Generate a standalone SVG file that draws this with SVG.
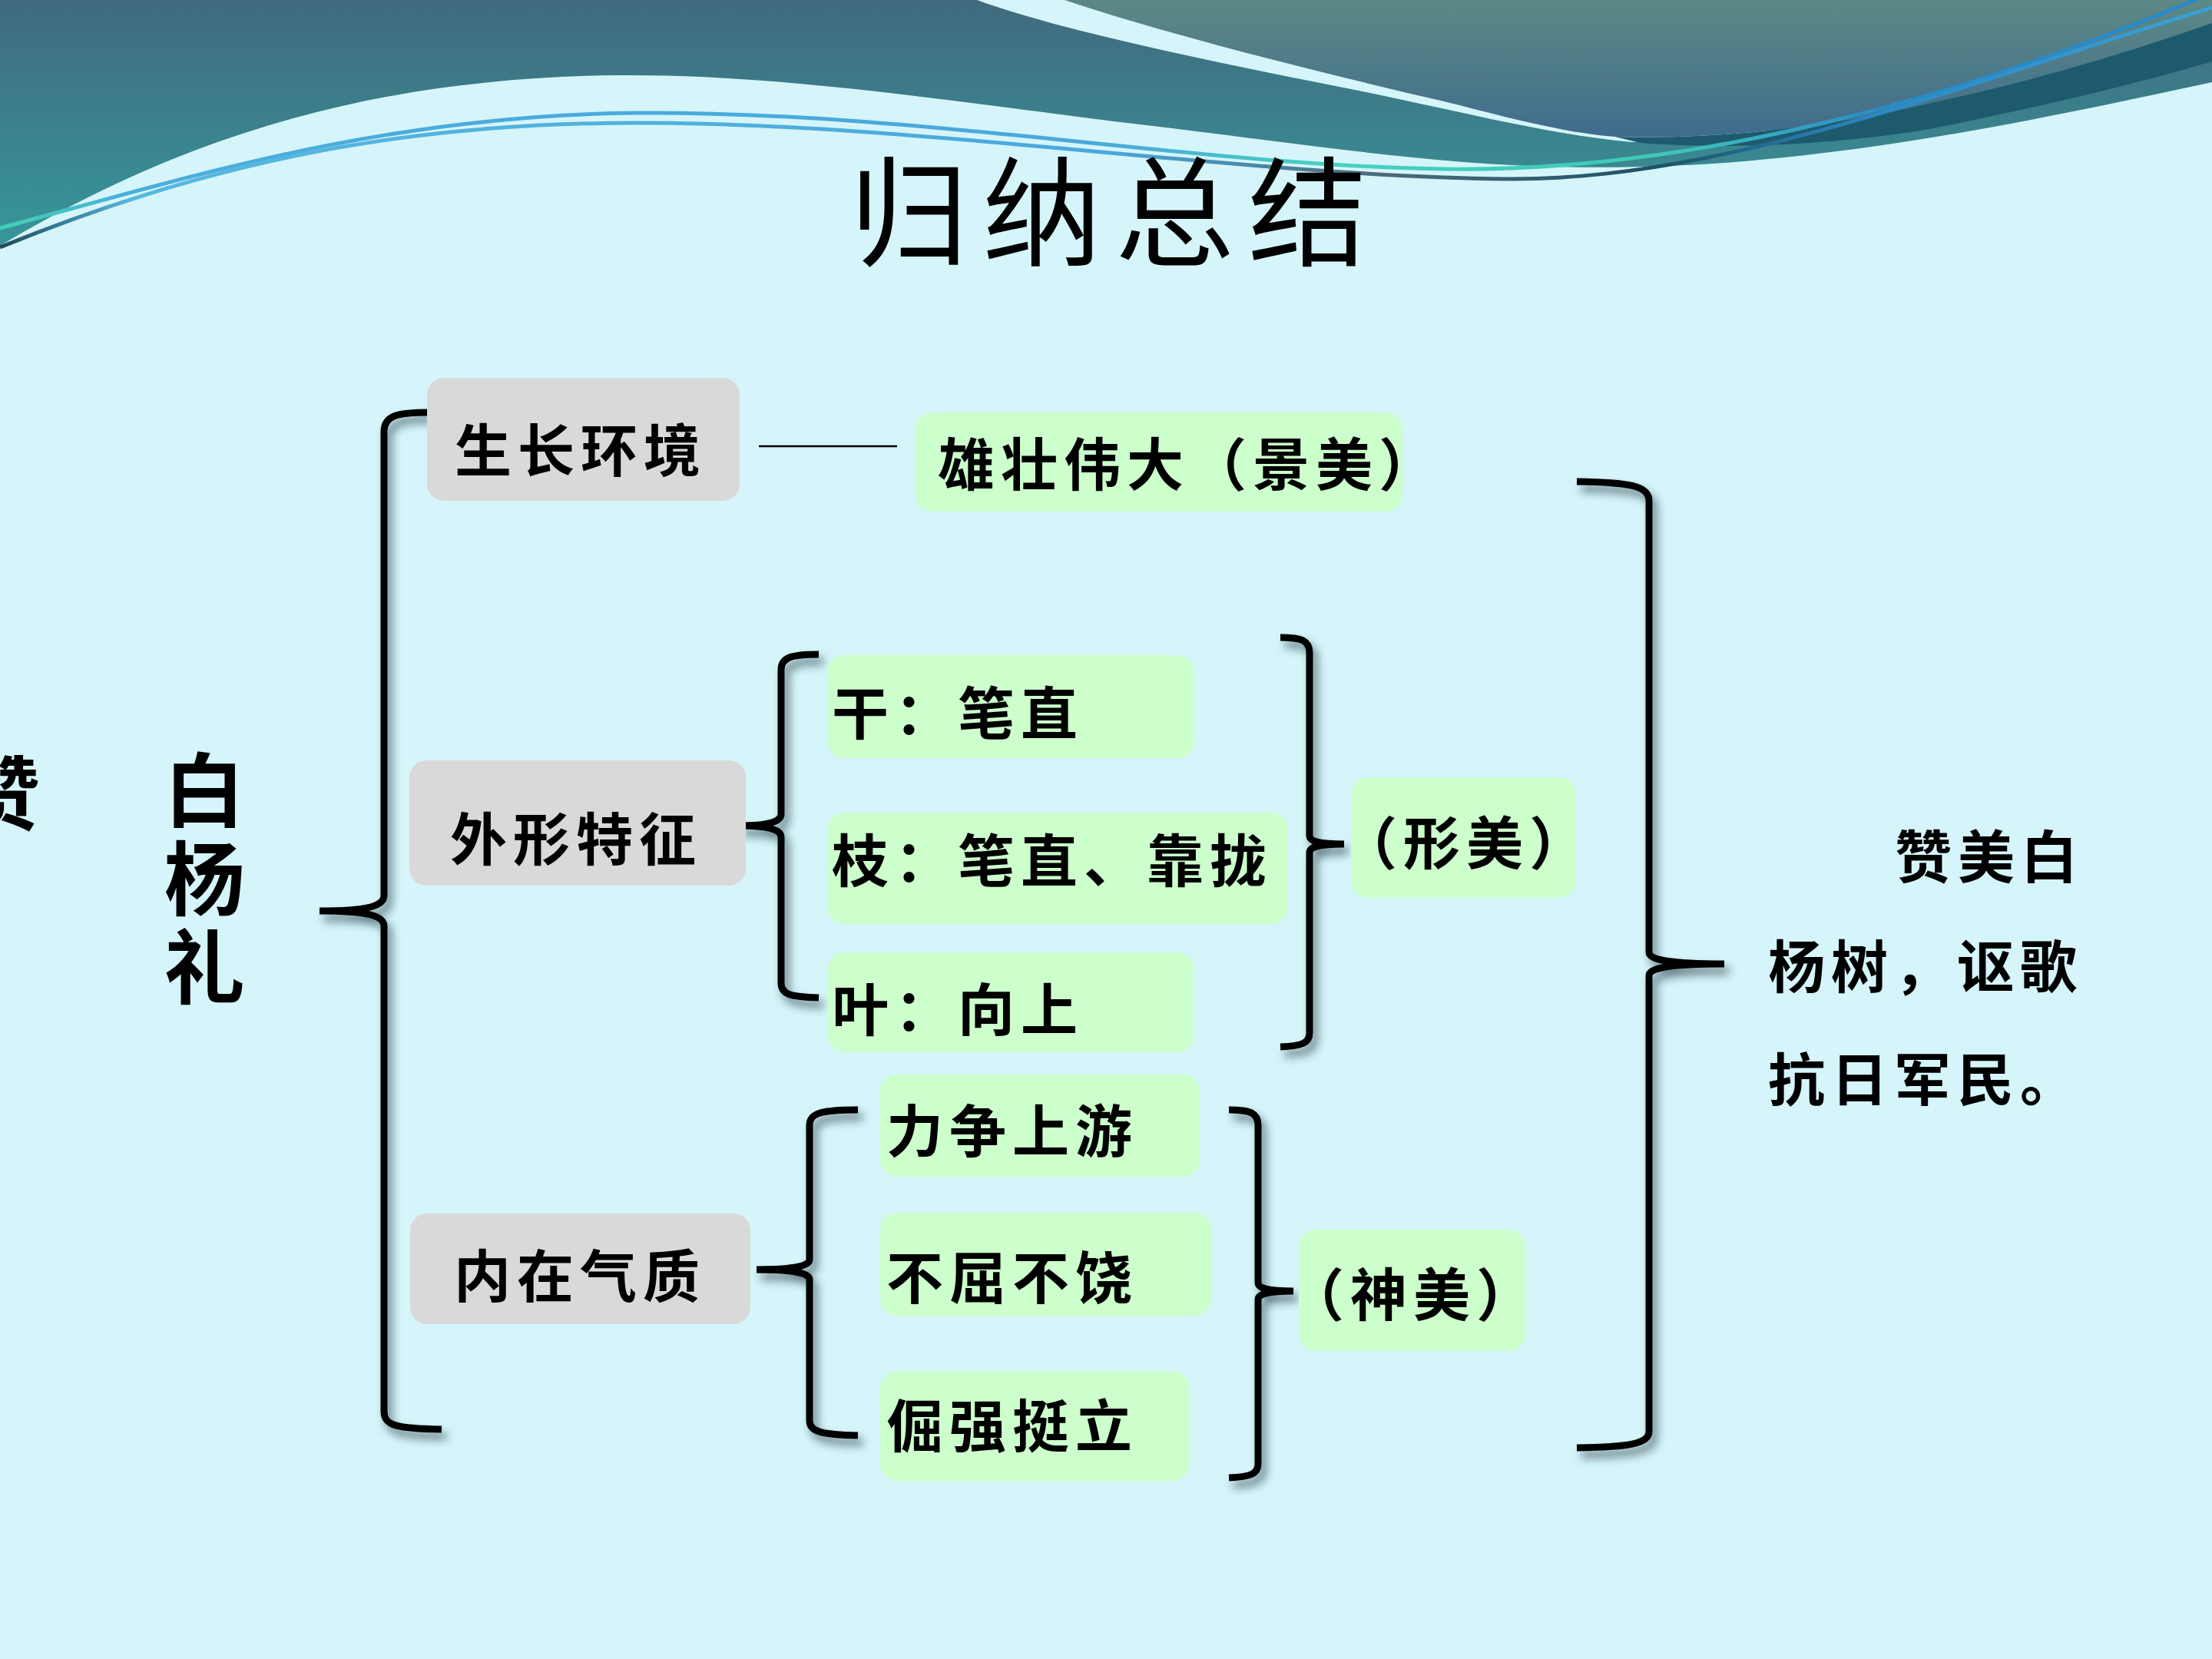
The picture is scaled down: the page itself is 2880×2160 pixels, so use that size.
<svg xmlns="http://www.w3.org/2000/svg" width="2880" height="2160" viewBox="0 0 2880 2160">
<defs>
<linearGradient id="gTeal" x1="0" y1="0" x2="0" y2="320" gradientUnits="userSpaceOnUse">
<stop offset="0" stop-color="#416a7e"/><stop offset="1" stop-color="#36979a"/>
</linearGradient>
<linearGradient id="gGrey" x1="0" y1="0" x2="0" y2="190" gradientUnits="userSpaceOnUse">
<stop offset="0" stop-color="#5c8984"/><stop offset="1" stop-color="#3e6a8e"/>
</linearGradient>
<linearGradient id="gLine1" x1="0" y1="0" x2="2880" y2="0" gradientUnits="userSpaceOnUse">
<stop offset="0" stop-color="#44d0b4"/><stop offset="0.06" stop-color="#4aaedc"/><stop offset="0.5" stop-color="#4aa8dc"/><stop offset="0.6" stop-color="#46d2c0"/><stop offset="0.75" stop-color="#40c8b8"/><stop offset="0.85" stop-color="#2c8ac4"/><stop offset="1" stop-color="#2a8ac8"/>
</linearGradient>
<linearGradient id="gLine2" x1="0" y1="0" x2="2880" y2="0" gradientUnits="userSpaceOnUse">
<stop offset="0" stop-color="#1e4a58"/><stop offset="0.06" stop-color="#58b8e0"/><stop offset="0.5" stop-color="#4aa8dc"/><stop offset="0.62" stop-color="#4d6c7c"/><stop offset="0.75" stop-color="#1e5266"/><stop offset="0.85" stop-color="#2c8ac4"/><stop offset="1" stop-color="#3aa0d4"/>
</linearGradient>
<filter id="shadow" x="-20%" y="-5%" width="140%" height="115%">
<feGaussianBlur in="SourceAlpha" stdDeviation="6"/>
<feOffset dx="6" dy="9" result="b"/>
<feFlood flood-color="#1a2f38" flood-opacity="0.6"/>
<feComposite in2="b" operator="in"/>
<feMerge><feMergeNode/><feMergeNode in="SourceGraphic"/></feMerge>
</filter>
<style>
.lbl{font-family:"Noto Sans CJK SC","Noto Sans CJK TC",sans-serif;font-weight:700;font-size:74px;letter-spacing:8px;fill:#000}
.big{font-family:"Noto Sans CJK SC",sans-serif;font-weight:700;font-size:105px;fill:#000}
.vert{writing-mode:vertical-rl;letter-spacing:10px}
.grey{fill:#d9d9d9}
.green{fill:#ccffcc}
.br{fill:none;stroke:#000;stroke-width:9;stroke-linecap:butt;stroke-linejoin:round}
</style>
</defs>
<rect width="2880" height="2160" fill="#d5f5fa"/>
<g id="background-waves">
<path d="M0,0 L2880,0 L2880,107 C2680,150 2400,212 2135,217 C1900,224 1700,186 1450,158 C1200,126 1000,96 800,98 C500,102 250,170 0,320 Z" fill="url(#gTeal)"/>
<path d="M1272,0 C1380,40 1600,85 1769,118 C1900,145 2020,176 2125,185 L2300,185 L2300,0 Z" fill="#d5f5fa"/>
<path d="M2103,178 C2250,182 2400,162 2518,133 C2650,105 2780,65 2880,30 L2880,80 C2780,110 2650,140 2518,167 C2400,188 2250,195 2135,186 Z" fill="#1d5a6e"/>
<path d="M1386,0 C1520,45 1720,95 1880,132 C1960,152 2030,172 2103,178 C2250,182 2400,162 2518,133 C2650,105 2780,65 2880,30 L2880,0 Z" fill="url(#gGrey)"/>
<path d="M0,297 C250,230 500,150 830,147 C1200,145 1550,215 1880,220 C2200,225 2550,130 2870,-5" fill="none" stroke="url(#gLine1)" stroke-width="5"/>
<path d="M0,322 C250,220 500,160 830,160 C1200,160 1600,228 1960,233 C2250,236 2550,110 2880,10" fill="none" stroke="url(#gLine2)" stroke-width="5"/>
</g>
<g id="title">
<text x="1106" y="334" font-family="'Noto Sans CJK SC',sans-serif" font-size="155" letter-spacing="18" fill="#000">归纳总结</text>
</g>
<g id="connectors">
<g filter="url(#shadow)">
<path class="br" d="M558,537 C520,537 500,540 500,562 L500,1166 C500,1180 478,1186 416,1186 M416,1186 C478,1186 500,1192 500,1206 L500,1838 C500,1856 516,1860 575,1861"/>
<path class="br" d="M1066,852 C1030,852 1017,856 1017,872 L1017,1060 C1017,1070 1000,1075 962,1075 M962,1075 C1000,1075 1017,1080 1017,1090 L1017,1280 C1017,1295 1030,1298 1066,1299"/>
<path class="br" d="M1667,830 C1695,830 1705,834 1705,850 L1705,1088 C1705,1095 1716,1099 1750,1099 M1750,1099 C1716,1099 1705,1103 1705,1110 L1705,1345 C1705,1358 1695,1362 1667,1363"/>
<path class="br" d="M1117,1445 C1070,1445 1054,1449 1054,1465 L1054,1640 C1054,1648 1035,1653 985,1653 M985,1653 C1035,1653 1054,1658 1054,1666 L1054,1850 C1054,1864 1070,1868 1117,1869"/>
<path class="br" d="M1600,1445 C1628,1445 1638,1449 1638,1465 L1638,1670 C1638,1677 1650,1681 1684,1681 M1684,1681 C1650,1681 1638,1685 1638,1692 L1638,1906 C1638,1919 1628,1923 1600,1924"/>
<path class="br" d="M2053,627 C2120,628 2147,632 2147,652 L2147,1240 C2147,1250 2175,1255 2245,1255 M2245,1255 C2175,1255 2147,1260 2147,1270 L2147,1864 C2147,1880 2120,1884 2053,1885"/>
</g>
<line x1="988" y1="581" x2="1168" y2="581" stroke="#000" stroke-width="2.5"/>
</g>
<g id="n-zan"><text class="big" x="-53" y="1072">赞</text></g>
<g id="n-root">
<text class="big vert" x="266" y="976">白杨礼</text>
</g>
<g id="n-env"><rect class="grey" x="556" y="492" width="407" height="160" rx="22"/><text class="lbl" x="592" y="614">生长环境</text></g>
<g id="n-shape"><rect class="grey" x="533" y="990" width="438" height="163" rx="22"/><text class="lbl" x="586" y="1120">外形特征</text></g>
<g id="n-inner"><rect class="grey" x="534" y="1580" width="443" height="144" rx="22"/><text class="lbl" x="591" y="1689">内在气质</text></g>
<g id="n-grand"><rect class="green" x="1191" y="537" width="635" height="129" rx="22"/><text class="lbl" x="1221" y="632">雄壮伟大（景美）</text></g>
<g id="n-gan"><rect class="green" x="1077" y="853" width="478" height="134" rx="22"/><text class="lbl" x="1083" y="956">干：笔直</text></g>
<g id="n-zhi"><rect class="green" x="1077" y="1058" width="600" height="145" rx="22"/><text class="lbl" x="1083" y="1148">枝：笔直、靠拢</text></g>
<g id="n-ye"><rect class="green" x="1078" y="1240" width="476" height="130" rx="22"/><text class="lbl" x="1083" y="1342">叶：向上</text></g>
<g id="n-xingmei"><rect class="green" x="1759" y="1012" width="293" height="157" rx="22"/><text class="lbl" x="1745" y="1125">（形美）</text></g>
<g id="n-li"><rect class="green" x="1146" y="1399" width="416" height="133" rx="22"/><text class="lbl" x="1154" y="1500">力争上游</text></g>
<g id="n-bu"><rect class="green" x="1146" y="1579" width="431" height="134" rx="22"/><text class="lbl" x="1154" y="1691">不屈不饶</text></g>
<g id="n-jue"><rect class="green" x="1146" y="1785" width="402" height="143" rx="22"/><text class="lbl" x="1154" y="1884">倔强挺立</text></g>
<g id="n-shenmei"><rect class="green" x="1691" y="1601" width="295" height="158" rx="22"/><text class="lbl" x="1676" y="1713">（神美）</text></g>
<g id="n-summary">
<text class="lbl" x="2467" y="1143">赞美白</text>
<text class="lbl" x="2302" y="1286">杨树，讴歌</text>
<text class="lbl" x="2302" y="1433">抗日军民。</text>
</g>
</svg>
